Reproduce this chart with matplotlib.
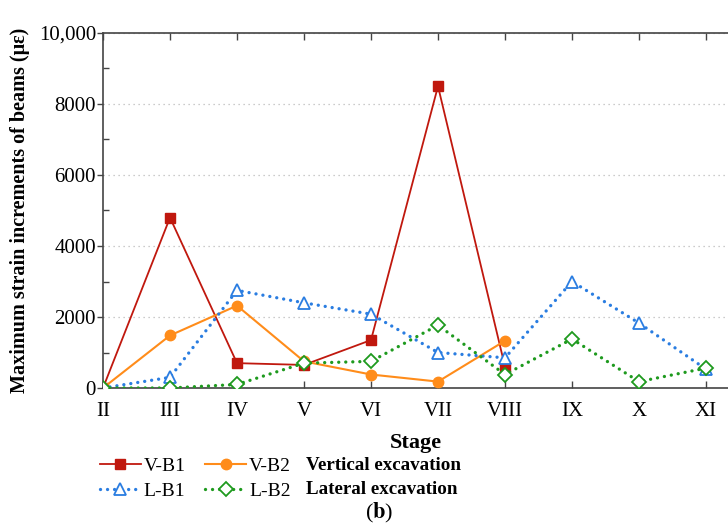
import matplotlib
matplotlib.use('Agg')
import matplotlib.pyplot as plt
from matplotlib.ticker import MultipleLocator, FixedLocator, FixedFormatter

plt.rcParams['font.family'] = ['Liberation Serif', 'DejaVu Serif']
plt.rcParams['mathtext.fontset'] = 'stix'

stages = ['II', 'III', 'IV', 'V', 'VI', 'VII', 'VIII', 'IX', 'X', 'XI']
vb1 = [0, 4800, 700, 650, 1350, 8500, 600]
vb2 = [0, 1480, 2320, 750, 380, 180, 1330]
lb1 = [0, 300, 2750, 2400, 2080, 1000, 850, 3000, 1830, 530]
lb2 = [0, 0, 100, 700, 750, 1770, 380, 1380, 180, 560]
ytick_vals = [0, 2000, 4000, 6000, 8000, 10000]
ytick_labels = ['0', '2000', '4000', '6000', '8000', '10,000']

W, H = 728, 529
fig = plt.figure(figsize=(W / 100, H / 100), dpi=100)
ax = fig.add_axes([103 / W, 1 - 388 / H, 1 - 103 / W, (388 - 33) / H])

dotted = (0, (0.01, 2.1))
h1, = ax.plot(range(len(vb1)), vb1, color='#c0180e', lw=1.3, marker='s',
              ms=6.5, label='V-B1', zorder=3)
h2, = ax.plot(range(len(vb2)), vb2, color='#ff8c1a', lw=1.5, marker='o',
              ms=7.5, label='V-B2', zorder=3)
h3, = ax.plot(range(len(lb1)), lb1, color='#2a7de1', lw=2.4, ls=dotted,
              dash_capstyle='round', marker='^', ms=9, mfc='white', mew=1.3,
              label='L-B1', zorder=4)
h4, = ax.plot(range(len(lb2)), lb2, color='#1e9a1e', lw=2.4, ls=dotted,
              dash_capstyle='round', marker='D', ms=7.5, mfc='white', mew=1.3,
              label='L-B2', zorder=4)

ax.set_xlim(0, (W - 103) / 67)
ax.set_ylim(0, 10000)
ax.xaxis.set_major_locator(FixedLocator(range(len(stages))))
ax.xaxis.set_major_formatter(FixedFormatter(stages))
ax.yaxis.set_major_locator(FixedLocator(ytick_vals))
ax.yaxis.set_major_formatter(FixedFormatter(ytick_labels))
ax.yaxis.set_minor_locator(MultipleLocator(1000))

ax.grid(axis='y', which='major', color='#bbbbbb', ls=(0, (1, 3)), lw=0.9)
ax.spines['right'].set_visible(False)
for s in ['left', 'top', 'bottom']:
    ax.spines[s].set_linewidth(1.2)
    ax.spines[s].set_color('#444444')
ax.tick_params(axis='x', which='major', direction='in', top=True, length=5,
               width=1, color='#444444', labelsize=15, pad=10)
ax.tick_params(axis='y', which='major', direction='out', length=4, width=1,
               color='#444444', labelsize=15, pad=1)
ax.tick_params(axis='y', which='minor', direction='in', length=4, width=1,
               color='#444444')

ax.set_ylabel('Maximum strain increments of beams (με)', fontsize=14.5,
              fontweight='bold', labelpad=6)
ax.set_xlabel('Stage', fontsize=16, fontweight='bold', labelpad=9)

fig.legend(handles=[h1, h3, h2, h4], loc='upper left',
           bbox_to_anchor=(100 / W, 1 - 457 / H), ncol=2,
           frameon=False, fontsize=14, handlelength=2.1, handletextpad=0.15,
           columnspacing=1.0, labelspacing=0.38, borderpad=0, borderaxespad=0)
fig.text(306 / W, 1 - 466 / H, 'Vertical excavation', fontsize=13.7,
         fontweight='bold', va='center')
fig.text(306 / W, 1 - 490 / H, 'Lateral excavation', fontsize=13.7,
         fontweight='bold', va='center')
fig.text(379 / W, 1 - 513 / H, r'($\mathbf{b}$)', fontsize=16,
         ha='center', va='center')

fig.savefig('out.png', dpi=100)
